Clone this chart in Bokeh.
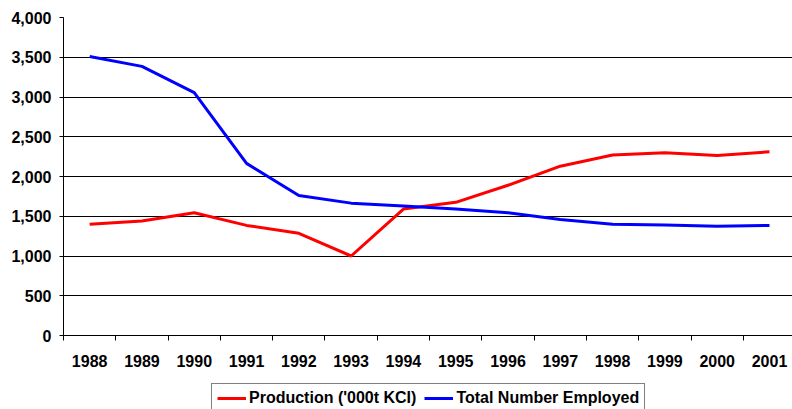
from bokeh.plotting import figure
from bokeh.layouts import column
from bokeh.models import FixedTicker, NumeralTickFormatter, Legend, LegendItem, Range1d
from bokeh.embed import file_html
from bokeh.resources import INLINE

years = ["1988", "1989", "1990", "1991", "1992", "1993", "1994",
         "1995", "1996", "1997", "1998", "1999", "2000", "2001"]
production = [1400, 1440, 1545, 1385, 1285, 1000, 1590, 1675, 1890, 2130, 2270, 2300, 2265, 2310]
employed = [3510, 3385, 3055, 2165, 1760, 1665, 1630, 1590, 1545, 1460, 1400, 1390, 1375, 1385]
y_ticks = [0, 500, 1000, 1500, 2000, 2500, 3000, 3500, 4000]
series_names = ["Production ('000t KCI)", "Total Number Employed"]
series_colors = ["#FF0000", "#0000FF"]

FONT = "Liberation Sans"
FS = "16px"
xs = [i + 0.5 for i in range(len(years))]

p = figure(frame_width=729, frame_height=318, output_backend="svg", toolbar_location=None,
           x_range=Range1d(0, 13.94), y_range=Range1d(0, 4000),
           min_border_left=63, min_border_right=0, min_border_top=17, min_border_bottom=47)
p.outline_line_color = None
p.background_fill_color = "white"

p.line(xs, production, line_color=series_colors[0], line_width=3)
p.line(xs, employed, line_color=series_colors[1], line_width=3)

xa = p.xaxis[0]
xa.ticker = FixedTicker(ticks=xs, minor_ticks=list(range(len(years) + 1)))
xa.major_label_overrides = {x: y for x, y in zip(xs, years)}
xa.major_tick_line_color = None
xa.major_tick_out = 0
xa.major_tick_in = 0
xa.minor_tick_out = 5
xa.minor_tick_in = 0
xa.minor_tick_line_color = "black"
xa.axis_line_color = "black"
xa.major_label_standoff = 14
xa.major_label_text_font = FONT
xa.major_label_text_font_style = "bold"
xa.major_label_text_font_size = FS
xa.major_label_text_color = "black"

ya = p.yaxis[0]
ya.ticker = FixedTicker(ticks=y_ticks)
ya.formatter = NumeralTickFormatter(format="0,0")
ya.major_tick_out = 4
ya.major_tick_in = 0
ya.minor_tick_line_color = None
ya.major_tick_line_color = "black"
ya.axis_line_color = "black"
ya.major_label_standoff = 8
ya.major_label_text_font = FONT
ya.major_label_text_font_style = "bold"
ya.major_label_text_font_size = FS
ya.major_label_text_color = "black"

p.xgrid.grid_line_color = None
p.ygrid.grid_line_color = "black"
p.ygrid.grid_line_width = 1
p.ygrid.ticker = FixedTicker(ticks=y_ticks)

# legend strip below the chart (same frame geometry as the chart)
lg = figure(frame_width=729, frame_height=27, output_backend="svg", toolbar_location=None,
            x_range=Range1d(0, 1), y_range=Range1d(0, 1),
            min_border_left=63, min_border_right=0, min_border_top=0, min_border_bottom=0)
lg.axis.visible = False
lg.grid.visible = False
lg.outline_line_color = None
d1 = lg.line(xs, production, line_color=series_colors[0], line_width=3)
d2 = lg.line(xs, employed, line_color=series_colors[1], line_width=3)
legend = Legend(items=[LegendItem(label=series_names[0], renderers=[d1]),
                       LegendItem(label=series_names[1], renderers=[d2])],
                orientation="horizontal", location=(148, -4),
                label_text_font=FONT, label_text_font_style="bold",
                label_text_font_size=FS, label_text_color="black",
                glyph_width=29, glyph_height=16, label_standoff=3, spacing=8,
                padding=5, margin=0, border_line_color="black", border_line_width=1,
                label_height=16, background_fill_color="white")
lg.add_layout(legend, "center")

layout = column(p, lg, spacing=0)
open("out.html", "w").write(file_html(layout, INLINE))
